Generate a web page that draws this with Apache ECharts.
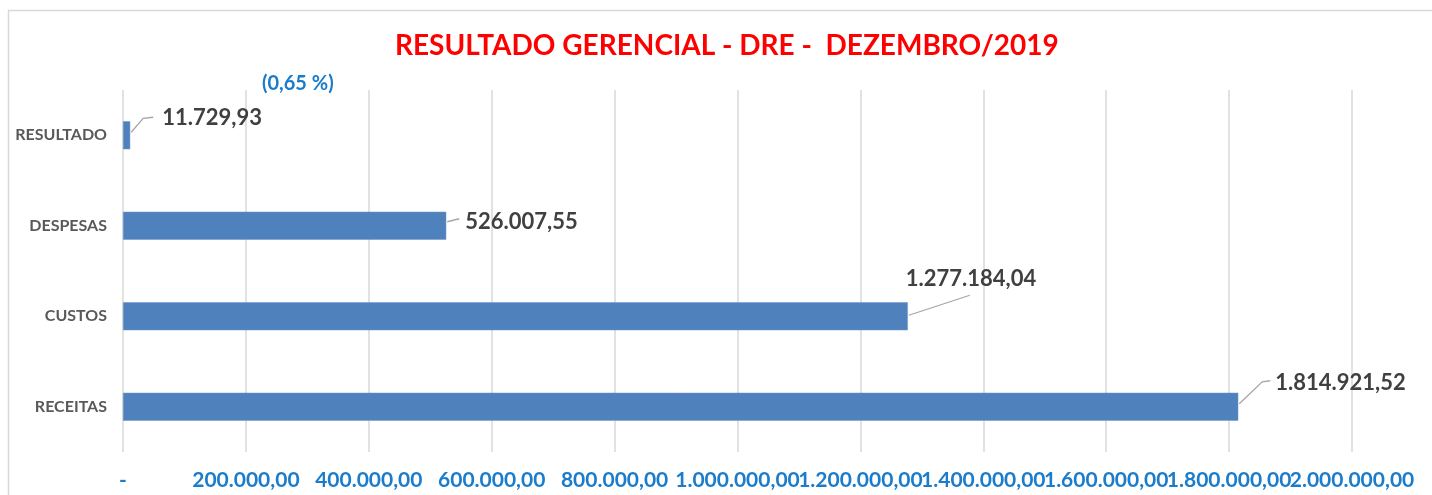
<!DOCTYPE html>
<html>
<head>
<meta charset="utf-8">
<script src="https://cdn.jsdelivr.net/npm/echarts@6/dist/echarts.min.js"></script>
<style>
html,body{margin:0;padding:0;background:#fff;}
#c{width:1432px;height:495px;}
</style>
</head>
<body>
<div id="c"></div>
<script>
const categories = ['RECEITAS', 'CUSTOS', 'DESPESAS', 'RESULTADO'];
const values = [1814921.52, 1277184.04, 526007.55, 11729.93];
const titleText = 'RESULTADO GERENCIAL - DRE -  DEZEMBRO/2019';
const noteText = '(0,65 %)';
const xMin = 0, xMax = 2000000, xStep = 200000;

// label text offsets from the bar end (left edge of text, vertical centre)
const labelOffsets = [
  {dx: 37, dy: -24},
  {dx: -2, dy: -37},
  {dx: 19, dy: -4},
  {dx: 32, dy: -17}
];
// leader line points relative to the bar end
const leaderPts = [
  [[1, -3], [24, -25], [32, -26]],
  [[1, -1], [62, -21]],
  [[1, -4], [13, -7]],
  [[1, -3], [13, -17], [23, -18]]
];

function fmt(v, dec) {
  if (v === 0) return '-';
  return v.toLocaleString('pt-BR', {minimumFractionDigits: dec, maximumFractionDigits: dec});
}

const axisLabelStyle = {
  color: '#1A7CCB', fontFamily: 'Lato', fontWeight: 'bold', fontSize: 21, margin: 18
};

const chart = echarts.init(document.getElementById('c'), null, {renderer: 'canvas'});
const baseGraphic = [
  {id: 'border', type: 'rect', shape: {x: 8.5, y: 10.5, width: 1600, height: 700}, style: {fill: 'none', stroke: '#d9d9d9', lineWidth: 1.5}, silent: true},
  {id: 'note', type: 'text', left: 262, top: 74, style: {text: noteText, fill: '#1A7CCB', font: 'bold 20px Lato'}}
];
chart.setOption({
  backgroundColor: '#fff',
  animation: false,
  title: {
    text: titleText,
    left: 390,
    top: 27,
    textStyle: {color: '#FF0000', fontFamily: 'Lato', fontWeight: 'bold', fontSize: 28}
  },
  graphic: baseGraphic,
  grid: {left: 123, right: 80, top: 90, bottom: 43, containLabel: false},
  xAxis: [{
    type: 'value',
    position: 'bottom',
    min: xMin, max: xMax, interval: xStep,
    axisLine: {show: false},
    axisTick: {show: false},
    splitLine: {show: true, lineStyle: {color: '#d9d9d9', width: 1.5}},
    axisLabel: Object.assign({
      formatter: v => (v === xMax ? '' : fmt(v, 2)),
      showMaxLabel: false, showMinLabel: true, hideOverlap: false
    }, axisLabelStyle)
  }, {
    type: 'value',
    position: 'bottom',
    offset: 0,
    min: xMin, max: xMax, interval: xStep,
    axisLine: {show: false},
    axisTick: {show: false},
    splitLine: {show: false},
    axisLabel: Object.assign({
      formatter: v => (v === xMax ? fmt(v, 2) : ''),
      showMaxLabel: true, showMinLabel: false, hideOverlap: false
    }, axisLabelStyle)
  }],
  yAxis: {
    type: 'category',
    data: categories,
    axisLine: {show: false},
    axisTick: {show: false},
    axisLabel: {color: '#595959', fontFamily: 'Lato', fontWeight: 'bold', fontSize: 16, margin: 16}
  },
  series: [{
    type: 'bar',
    xAxisIndex: 0,
    data: values,
    barWidth: 28,
    itemStyle: {color: '#4F81BD', borderColor: '#6E97C8', borderWidth: 0.5},
    label: {
      show: true,
      position: 'right',
      distance: 0,
      formatter: p => fmt(p.value, 2),
      color: '#404040', fontFamily: 'Lato', fontWeight: 'bold', fontSize: 22
    },
    labelLayout: p => labelOffsets[p.dataIndex]
  }]
});

const lines = values.map((v, i) => {
  const end = chart.convertToPixel({seriesIndex: 0}, [v, i]);
  return {
    id: 'leader' + i,
    type: 'polyline',
    silent: true,
    shape: {points: leaderPts[i].map(p => [end[0] + p[0], end[1] + p[1]])},
    style: {stroke: '#a6a6a6', lineWidth: 1.3, fill: 'none'}
  };
});
chart.setOption({graphic: baseGraphic.concat(lines)});
</script>
</body>
</html>
